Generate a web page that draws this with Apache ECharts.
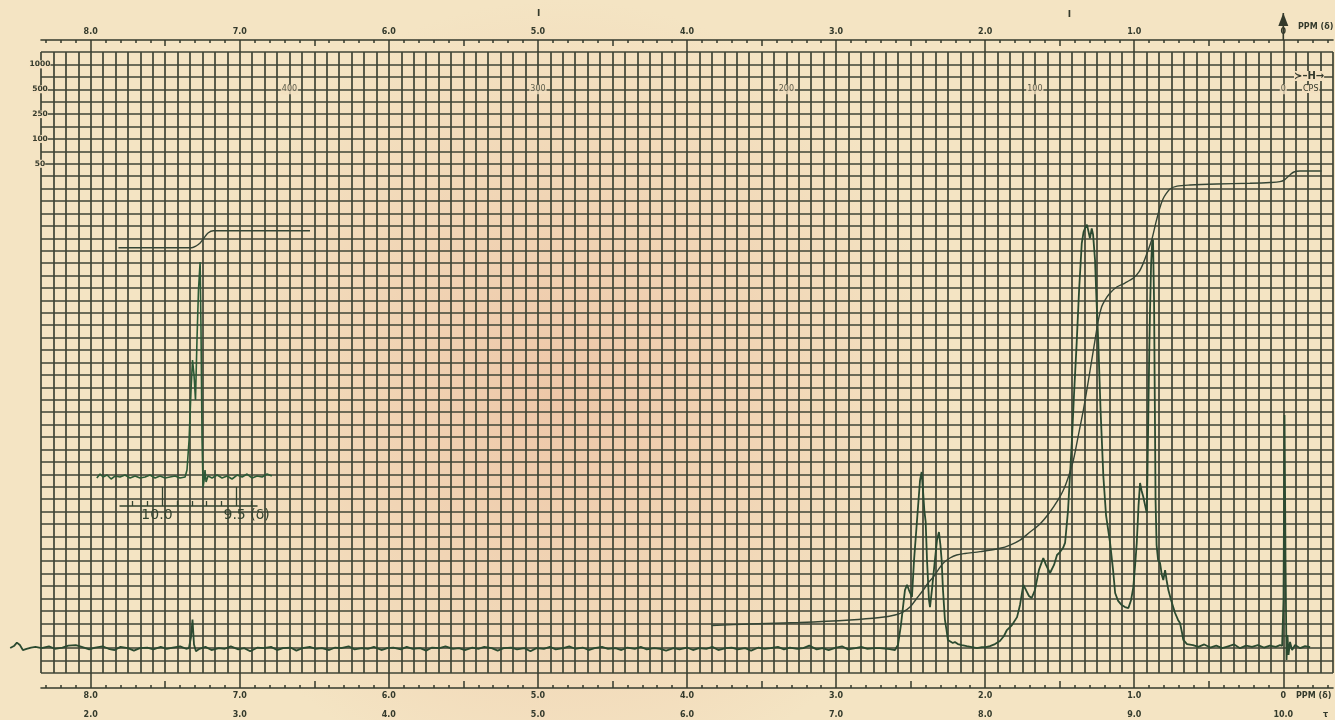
<!DOCTYPE html>
<html>
<head>
<meta charset="utf-8">
<script src="https://cdn.jsdelivr.net/npm/echarts@6/dist/echarts.min.js"></script>
<style>
  html, body { margin: 0; padding: 0; background: #f4e4c3; }
  #chart { width: 1335px; height: 720px; }
</style>
</head>
<body>
<div id="chart"></div>
<script>
// ---- chart paper: 104 columns x 50 rows, 12 columns per ppm (5 cps at 60 MHz) ----
const PPM_MIN = -1 / 3;
const PPM_MAX = 25 / 3;
const GRID_COLS = 104;
const GRID_ROWS = 50;

// ppm scale (top and bottom) and the tau scale beneath it
const ppmMajor = [8, 7, 6, 5, 4, 3, 2, 1, 0];
const ppmHalf = [7.5, 6.5, 5.5, 4.5, 3.5, 2.5, 1.5, 0.5];
const tauLabels = ['2.0', '3.0', '4.0', '5.0', '6.0', '7.0', '8.0', '9.0', '10.0'];

// sweep-width scale printed on the left edge
const sweepLabels = ['1000', '500', '250', '100', '50'];
const sweepRows = [49, 47, 45, 43, 41];

// cps scale printed across the paper
const cpsValues = [400, 300, 200, 100, 0];
const SPECTROMETER_MHZ = 60;

// offset sweep of the inset (its delta = main delta + shift)
const INSET_SHIFT = 2.478;
const insetMajor = [10.0, 9.5];
const insetMinor = [10.2, 10.1, 9.9, 9.8, 9.7, 9.6, 9.4];

// ---- recorded trace: [delta ppm, pen height in grid rows] ----
const spectrum = [
  [8.54,2.01],[8.515,2.17],[8.495,2.45],[8.475,2.25],[8.455,1.85],[8.43,1.95],[8.40,2.05],[8.37,2.1],
  [8.33,2.0],[8.28,2.15],[8.24,1.95],[8.19,2.05],[8.15,2.2],[8.10,2.25],[8.06,2.1],[8.01,1.9],
  [7.97,2.05],[7.92,2.15],[7.88,1.95],[7.84,1.85],[7.80,2.1],[7.75,2.0],[7.71,1.8],[7.67,2.0],
  [7.62,2.05],[7.58,1.9],[7.53,2.1],[7.49,1.95],[7.45,2.05],[7.40,2.15],[7.36,1.95],
  [7.341,2.0],[7.327,2.9],[7.317,4.3],[7.307,2.3],[7.294,1.75],
  [7.27,1.95],[7.23,2.1],[7.19,1.85],[7.14,2.0],[7.10,1.95],[7.06,2.15],[7.01,1.9],[6.97,2.0],
  [6.93,1.75],[6.88,2.05],[6.84,2.0],[6.79,2.1],[6.75,1.85],[6.71,2.0],[6.66,2.05],[6.62,1.8],
  [6.58,2.0],[6.53,2.1],[6.49,1.95],[6.45,2.0],[6.40,1.85],[6.36,2.05],[6.32,2.0],[6.27,2.15],
  [6.23,1.9],[6.18,2.0],[6.14,1.95],[6.10,2.1],[6.05,1.85],[6.01,2.0],[5.97,2.05],[5.92,1.9],
  [5.88,2.1],[5.84,1.95],[5.79,2.0],[5.75,1.8],[5.71,2.05],[5.66,2.0],[5.62,2.15],[5.57,1.95],
  [5.53,2.0],[5.49,1.85],[5.44,2.05],[5.40,1.95],[5.36,2.1],[5.31,2.0],[5.27,1.8],[5.23,2.0],
  [5.18,2.05],[5.14,1.9],[5.09,2.0],[5.05,1.75],[5.01,2.0],[4.96,1.95],[4.92,2.1],[4.88,1.9],
  [4.83,2.0],[4.79,2.15],[4.75,1.95],[4.70,2.05],[4.66,1.85],[4.62,2.0],[4.57,2.1],[4.53,1.95],
  [4.48,2.0],[4.44,1.85],[4.40,2.05],[4.35,1.95],[4.31,2.1],[4.27,1.9],[4.22,2.0],[4.18,1.95],
  [4.14,1.8],[4.09,2.0],[4.05,1.9],[4.00,2.05],[3.96,1.85],[3.92,2.0],[3.87,1.95],[3.83,2.1],
  [3.79,1.85],[3.74,2.0],[3.70,2.05],[3.66,1.9],[3.61,2.0],[3.57,1.8],[3.52,2.05],[3.48,1.95],
  [3.44,2.0],[3.39,2.1],[3.35,1.9],[3.31,2.05],[3.26,1.95],[3.22,2.0],[3.18,2.2],[3.13,1.9],
  [3.09,2.0],[3.05,1.85],[3.00,2.05],[2.96,2.15],[2.92,1.9],[2.87,2.0],[2.83,2.1],[2.79,1.95],
  [2.74,2.0],[2.706,2.0],[2.64,1.93],[2.605,1.85],
  // CH2 multiplet near 2.4
  [2.585,2.25],[2.565,3.86],[2.538,6.68],[2.524,7.09],[2.511,6.68],[2.491,6.12],[2.477,9.1],
  [2.457,12.3],[2.437,15.5],[2.426,16.18],[2.417,14.7],[2.408,13.1],[2.399,12.16],[2.390,9.1],
  [2.377,5.9],[2.370,5.3],[2.357,6.7],[2.337,9.1],[2.323,10.7],[2.310,11.35],[2.300,10.3],
  [2.292,9.1],[2.283,6.7],[2.270,4.3],[2.259,3.46],[2.250,2.66],[2.237,2.5],[2.217,2.42],
  [2.203,2.5],[2.183,2.33],[2.156,2.25],[2.123,2.17],[2.089,2.09],[2.055,2.0],[2.022,2.09],
  [1.995,2.09],[1.968,2.17],[1.934,2.33],[1.901,2.58],[1.874,2.98],[1.854,3.46],[1.820,3.86],
  [1.786,4.5],[1.766,5.5],[1.744,7.09],[1.726,6.68],[1.706,6.2],[1.688,6.04],[1.666,6.68],
  [1.639,8.3],[1.610,9.26],[1.592,8.7],[1.565,8.05],[1.538,8.7],[1.518,9.5],[1.498,9.74],
  [1.478,10.06],[1.464,10.47],
  // methylene envelope near 1.3
  [1.444,13.1],[1.419,18.5],[1.404,22.4],[1.386,26.6],[1.370,30.8],[1.352,34.6],[1.340,35.5],
  [1.330,35.8],[1.317,36.1],[1.307,36.0],[1.297,35.0],[1.285,35.8],[1.276,35.3],[1.263,33.25],
  [1.253,30.0],[1.241,26.6],[1.226,21.2],[1.207,15.8],[1.189,12.7],[1.162,10.47],[1.142,8.3],
  [1.128,6.44],[1.108,5.8],[1.084,5.47],[1.062,5.31],[1.039,5.23],[1.021,5.88],[1.006,6.92],
  // methyl near 0.9
  [0.994,8.7],[0.983,10.47],[0.971,13.5],[0.961,15.3],[0.951,14.7],[0.939,14.17],[0.927,13.5],
  [0.916,12.9],[0.911,16.3],[0.905,21.2],[0.899,26.0],[0.894,29.2],[0.887,32.85],[0.880,34.6],
  [0.874,34.9],[0.867,30.0],[0.862,22.0],[0.857,13.9],[0.850,10.3],[0.840,9.1],[0.827,8.86],
  [0.815,7.9],[0.805,7.49],[0.793,8.29],[0.783,7.49],[0.771,6.68],[0.753,5.88],[0.726,4.83],
  [0.706,4.27],[0.693,4.03],[0.679,3.22],[0.671,2.66],[0.646,2.33],[0.606,2.25],
  [0.57,2.1],[0.53,2.3],[0.49,2.05],[0.45,2.2],[0.41,2.0],[0.37,2.15],[0.33,2.3],[0.29,2.0],
  [0.25,2.2],[0.21,2.1],[0.17,2.25],[0.13,2.05],[0.09,2.2],[0.05,2.1],[0.022,2.25],[0.008,2.17],
  // TMS reference
  [-0.0013,5.88],[-0.0081,20.77],[-0.0148,9.1],[-0.0215,1.05],[-0.028,3.06],[-0.035,1.45],
  [-0.045,2.5],[-0.059,1.85],[-0.079,2.25],[-0.113,2.0],[-0.146,2.17],[-0.18,2.09]
];

const integral = [
  [3.835,3.82],[3.577,3.95],[3.242,4.07],[2.906,4.27],[2.706,4.47],[2.605,4.67],[2.552,4.91],
  [2.504,5.31],[2.457,6.04],[2.415,6.68],[2.383,7.25],[2.348,7.73],[2.316,8.29],[2.280,8.86],
  [2.236,9.26],[2.191,9.5],[2.135,9.62],[2.034,9.77],[1.900,10.04],[1.833,10.3],[1.766,10.7],
  [1.699,11.35],[1.632,12.0],[1.565,12.96],[1.511,13.93],[1.475,14.73],[1.444,15.7],[1.408,17.15],
  [1.377,19.0],[1.341,21.18],[1.310,23.35],[1.285,25.2],[1.263,26.8],[1.241,28.4],[1.219,29.47],
  [1.196,30.03],[1.162,30.6],[1.117,31.08],[1.062,31.4],[1.006,31.8],[0.968,32.29],[0.939,33.0],
  [0.911,33.9],[0.883,34.86],[0.854,36.3],[0.827,37.5],[0.807,38.16],[0.787,38.57],[0.760,38.97],
  [0.713,39.2],[0.626,39.29],[0.447,39.37],[0.224,39.43],[0.090,39.49],[0.023,39.56],
  [-0.010,39.73],[-0.044,40.1],[-0.071,40.34],[-0.111,40.42],[-0.257,40.42]
];

// aldehyde proton, offset sweep
const insetSpectrum = [
  [10.437,15.70],[10.415,16.02],[10.395,15.78],[10.368,15.94],[10.341,15.62],[10.315,15.86],
  [10.281,15.78],[10.248,15.94],[10.214,15.70],[10.180,15.86],[10.147,15.70],[10.113,15.78],
  [10.080,15.94],[10.046,15.70],[10.013,15.86],[9.979,15.70],[9.946,15.78],[9.912,15.86],
  [9.879,15.70],[9.845,15.78],[9.832,16.34],[9.818,18.76],[9.805,22.79],[9.795,25.20],
  [9.785,24.0],[9.775,21.98],[9.765,26.81],[9.755,30.84],[9.744,33.09],[9.738,27.62],
  [9.731,18.76],[9.724,14.98],[9.717,15.54],[9.711,16.34],[9.704,15.38],[9.691,15.86],
  [9.664,15.70],[9.630,15.94],[9.597,15.70],[9.563,15.86],[9.530,15.62],[9.496,15.94],
  [9.462,15.78],[9.429,16.02],[9.395,15.70],[9.362,15.86],[9.328,15.78],[9.295,16.02],[9.263,15.86]
];
const insetIntegral = [
  [10.292,34.24],[9.800,34.24],[9.771,34.38],[9.744,34.62],[9.718,35.02],[9.691,35.43],
  [9.655,35.61],[9.007,35.61]
];

// ---- layout ----
const W = 1335, H = 720;
const GRID = { left: 41, right: 2, top: 52, bottom: 47 };
const PX_PER_PPM = (W - GRID.left - GRID.right) / (PPM_MAX - PPM_MIN);
const INSET_AXIS = { left: 120, right: 257, y: 506 };

const INK = '#343a2c';
const GRID_INK = '#3f4536';
const PEN = '#2b4a30';
const PAPER = '#f3e0bf';
const labelFont = { color: INK, fontFamily: 'DejaVu Sans', fontWeight: 'bold', fontSize: 8 };

const minorTicks = [];
for (let t = -3; t <= 83; t++) {
  if (t % 5 !== 0) minorTicks.push(t / 10);
}

const fmtPpm = v => (Math.abs(v) < 1e-9 ? '0' : v.toFixed(1));

function ppmAxis(extra) {
  return Object.assign({
    type: 'value', gridIndex: 0, inverse: true, min: PPM_MIN, max: PPM_MAX,
    splitLine: { show: false },
    axisLine: { show: false },
    axisTick: { show: false },
    axisLabel: { show: false }
  }, extra);
}

const tickStyle = { color: INK, width: 1.5 };
const insetInk = '#33432f';
const insetMin = PPM_MAX + INSET_SHIFT - (INSET_AXIS.right - GRID.left) / PX_PER_PPM;
const insetMax = PPM_MAX + INSET_SHIFT - (INSET_AXIS.left - GRID.left) / PX_PER_PPM;

const xAxes = [
  // 0: paper columns
  { type: 'value', gridIndex: 0, min: 0, max: GRID_COLS, interval: 1,
    axisLine: { show: false }, axisTick: { show: false }, axisLabel: { show: false },
    splitLine: { show: true, showMinLine: true, showMaxLine: true, lineStyle: { color: GRID_INK, width: 1.7 } } },
  // 1-3: top ppm scale
  ppmAxis({ position: 'top', offset: 12,
    axisLine: { show: true, lineStyle: { color: INK, width: 1.6 } },
    axisTick: { show: true, inside: true, length: 12, customValues: ppmMajor, lineStyle: tickStyle },
    axisLabel: Object.assign({ show: true, customValues: ppmMajor, margin: 4, formatter: fmtPpm }, labelFont) }),
  ppmAxis({ position: 'top', offset: 12,
    axisTick: { show: true, inside: true, length: 6, customValues: ppmHalf, lineStyle: tickStyle } }),
  ppmAxis({ position: 'top', offset: 12,
    axisTick: { show: true, inside: true, length: 3, customValues: minorTicks, lineStyle: tickStyle } }),
  // 4-6: bottom ppm scale
  ppmAxis({ position: 'bottom', offset: 15,
    axisLine: { show: true, lineStyle: { color: INK, width: 1.6 } },
    axisTick: { show: true, inside: true, length: 15, customValues: ppmMajor, lineStyle: tickStyle },
    axisLabel: Object.assign({ show: true, customValues: ppmMajor, margin: 4, formatter: fmtPpm }, labelFont) }),
  ppmAxis({ position: 'bottom', offset: 15,
    axisTick: { show: true, inside: true, length: 7, customValues: ppmHalf, lineStyle: tickStyle } }),
  ppmAxis({ position: 'bottom', offset: 15,
    axisTick: { show: true, inside: true, length: 3, customValues: minorTicks, lineStyle: tickStyle } }),
  // 7: tau scale
  ppmAxis({ position: 'bottom', offset: 15,
    axisLabel: Object.assign({ show: true, customValues: ppmMajor, margin: 23,
      formatter: v => tauLabels[ppmMajor.indexOf(Math.round(v))] }, labelFont) }),
  // 8: inset sweep, drawn across the main paper
  { type: 'value', gridIndex: 0, inverse: true, show: false,
    min: PPM_MIN + INSET_SHIFT, max: PPM_MAX + INSET_SHIFT },
  // 9-10: inset scale bar
  { type: 'value', gridIndex: 1, inverse: true, position: 'bottom', min: insetMin, max: insetMax,
    splitLine: { show: false },
    axisLine: { show: true, lineStyle: { color: insetInk, width: 1.5 } },
    axisTick: { show: true, inside: true, length: 5, customValues: insetMinor, lineStyle: { color: insetInk, width: 1.3 } },
    axisLabel: { show: false } },
  { type: 'value', gridIndex: 1, inverse: true, position: 'bottom', min: insetMin, max: insetMax,
    axisLine: { show: false }, splitLine: { show: false }, axisLabel: { show: false },
    axisTick: { show: true, inside: true, length: 19, customValues: insetMajor, lineStyle: { color: insetInk, width: 1.3 } } },
  // 11: full-width ppm axis, so the pen trace may run past the paper's left edge
  { type: 'value', gridIndex: 2, inverse: true, show: false,
    min: PPM_MIN - GRID.right / PX_PER_PPM, max: PPM_MAX + GRID.left / PX_PER_PPM }
];

const yAxes = [
  { type: 'value', gridIndex: 0, min: 0, max: GRID_ROWS, interval: 1,
    axisLine: { show: false }, axisTick: { show: false },
    axisLabel: Object.assign({ show: true, customValues: sweepRows, margin: 1, align: 'center',
      backgroundColor: PAPER, padding: [0, 0],
      formatter: v => sweepLabels[sweepRows.indexOf(Math.round(v))] }, labelFont, { fontSize: 7.5 }),
    splitLine: { show: true, showMinLine: true, showMaxLine: true, lineStyle: { color: GRID_INK, width: 1.7 } } },
  { type: 'value', gridIndex: 1, min: 0, max: 1, show: false },
  { type: 'value', gridIndex: 2, min: 0, max: GRID_ROWS, show: false }
];

const chart = echarts.init(document.getElementById('chart'), null, { renderer: 'canvas' });

chart.setOption({
  animation: false,
  backgroundColor: new echarts.graphic.RadialGradient(0.42, 0.55, 0.55, [
    { offset: 0, color: '#eec7a8' },
    { offset: 0.5, color: '#f1d5b5' },
    { offset: 1, color: '#f4e4c3' }
  ]),
  grid: [
    { left: GRID.left, right: GRID.right, top: GRID.top, bottom: GRID.bottom },
    { left: INSET_AXIS.left, right: W - INSET_AXIS.right, bottom: H - INSET_AXIS.y, height: 20 },
    { left: 0, right: 0, top: GRID.top, bottom: GRID.bottom }
  ],
  xAxis: xAxes,
  yAxis: yAxes,
  series: [
    { name: 'spectrum', type: 'line', xAxisIndex: 11, yAxisIndex: 2, data: spectrum,
      showSymbol: false, lineStyle: { color: PEN, width: 1.8 }, z: 5 },
    { name: 'integral', type: 'line', xAxisIndex: 1, yAxisIndex: 0, data: integral,
      showSymbol: false, smooth: 0.3, lineStyle: { color: '#354535', width: 1.4 }, z: 5 },
    { name: 'inset spectrum', type: 'line', xAxisIndex: 8, yAxisIndex: 0, data: insetSpectrum,
      showSymbol: false, lineStyle: { color: '#2c5a36', width: 1.6 }, z: 5 },
    { name: 'inset integral', type: 'line', xAxisIndex: 8, yAxisIndex: 0, data: insetIntegral,
      showSymbol: false, smooth: 0.3, lineStyle: { color: '#354535', width: 1.4 }, z: 5 },
    { name: 'cps', type: 'scatter', xAxisIndex: 1, yAxisIndex: 0, symbolSize: 0, z: 6,
      data: cpsValues.map(hz => [hz / SPECTROMETER_MHZ, 47, hz]),
      label: Object.assign({ show: true, position: 'inside', formatter: p => String(p.value[2]),
        backgroundColor: PAPER, padding: [1, 1] }, labelFont, { fontWeight: 'normal', fontSize: 8 }) }
  ]
});

// printed marks placed from the axes
const px = (axis, v) => chart.convertToPixel({ xAxisIndex: axis }, v);
const zeroX = px(1, 0);
const insetX10 = px(9, 10.0);
const insetX95 = px(9, 9.5);
const textStyle = (t, extra) => Object.assign({ text: t, fill: INK, font: 'bold 8px "DejaVu Sans"' }, extra);

chart.setOption({
  graphic: [
    { type: 'polygon', shape: { points: [[zeroX - 5, 26], [zeroX + 5, 26], [zeroX, 13]] }, style: { fill: INK }, z: 10 },
    { type: 'line', shape: { x1: zeroX, y1: 13, x2: zeroX, y2: 40 }, style: { stroke: INK, lineWidth: 1.6 }, z: 10 },
    { type: 'text', x: 1298, y: 23, style: textStyle('PPM (δ)'), z: 10 },
    { type: 'text', x: 1296, y: 692, style: textStyle('PPM (δ)'), z: 10 },
    { type: 'text', x: 1323, y: 711, style: textStyle('τ'), z: 10 },
    { type: 'text', x: px(1, 5.0) - 1, y: 9, style: textStyle('I', { font: 'bold 9px "DejaVu Sans"' }), z: 10 },
    { type: 'text', x: px(1, 1.44) - 1, y: 10, style: textStyle('I', { font: 'bold 9px "DejaVu Sans"' }), z: 10 },
    { type: 'text', x: 1294, y: 71, style: textStyle('≻–H→', { font: 'bold 10px "DejaVu Sans"', backgroundColor: PAPER }), z: 10 },
    { type: 'text', x: 1302, y: 85, style: textStyle('CPS', { font: '8px "DejaVu Sans"', backgroundColor: PAPER, padding: [0, 1] }), z: 10 },
    { type: 'text', x: insetX10 - 5, y: 515, style: textStyle('10.0', { font: '14px "DejaVu Sans"', fill: insetInk, align: 'center', verticalAlign: 'middle' }), z: 10 },
    { type: 'text', x: insetX95 - 13, y: 515, style: textStyle('9.5 (δ)', { font: '14px "DejaVu Sans"', fill: insetInk, align: 'left', verticalAlign: 'middle' }), z: 10 }
  ]
});
</script>
</body>
</html>
